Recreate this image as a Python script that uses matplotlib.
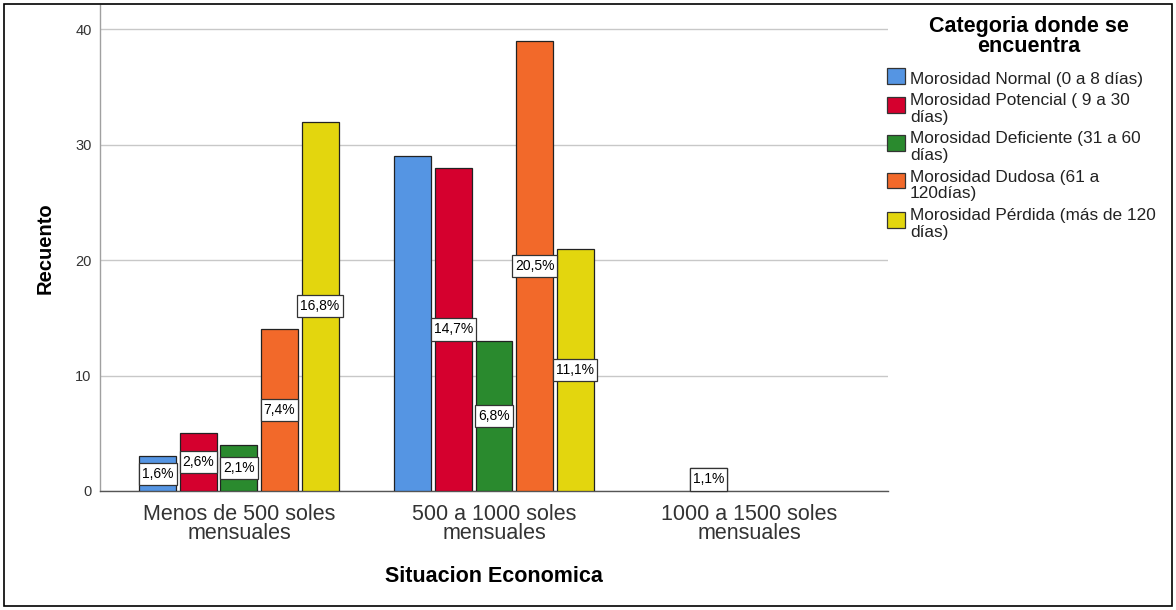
import matplotlib
matplotlib.use("Agg")
import matplotlib.pyplot as plt
from matplotlib.patches import Rectangle
from matplotlib.path import Path

plt.rcParams["font.family"] = ["Liberation Sans", "DejaVu Sans"]

# Data
groups = ["Menos de 500 soles\nmensuales", "500 a 1000 soles\nmensuales", "1000 a 1500 soles\nmensuales"]
series = ["Morosidad Normal (0 a 8 días)",
          "Morosidad Potencial ( 9 a 30\ndías)",
          "Morosidad Deficiente (31 a 60\ndías)",
          "Morosidad Dudosa (61 a\n120días)",
          "Morosidad Pérdida (más de 120\ndías)"]
counts = [
    [3, 29, 0],   # Normal
    [5, 28, 2],   # Potencial
    [4, 13, 0],   # Deficiente
    [14, 39, 0],  # Dudosa
    [32, 21, 0],  # Pérdida
]
pct_labels = [
    ["1,6%", None, None],
    ["2,6%", "14,7%", "1,1%"],
    ["2,1%", "6,8%", None],
    ["7,4%", "20,5%", None],
    ["16,8%", "11,1%", None],
]
colors = ["#5595e3", "#d5002e", "#2a8a2e", "#f2692a", "#e3d60e"]
yticks = [0, 10, 20, 30, 40]


def label_box(x0, y0, width, height, mutation_size):
    """Rectangular label frame with a little more room above and below."""
    px = 0.22 * mutation_size
    py = 0.30 * mutation_size
    x0, y0 = x0 - px, y0 - py
    x1, y1 = x0 + width + 2 * px, y0 + height + 2 * py
    return Path([(x0, y0), (x1, y0), (x1, y1), (x0, y1), (x0, y0)], closed=True)


W, H = 1176, 610
fig = plt.figure(figsize=(W / 100, H / 100), dpi=100)
ax = fig.add_axes([100 / W, (H - 491) / H, 788 / W, 486 / H])

bar_w = 0.145
step = 0.159
for i, (vals, col) in enumerate(zip(counts, colors)):
    off = (i - 2) * step
    for g, v in enumerate(vals):
        if v <= 0:
            continue
        ax.bar(g + off, v, width=bar_w, color=col, edgecolor="#222222",
               linewidth=0.9, zorder=3)
        lab = pct_labels[i][g]
        if lab:
            ax.text(g + off, v / 2, lab, ha="center", va="center", fontsize=10,
                    color="black", zorder=5,
                    bbox=dict(boxstyle=label_box, fc="white",
                              ec="#333333", lw=0.9))

ax.set_xlim(-0.545, 2.545)
ax.set_ylim(0, 42.1)
ax.set_yticks(yticks)
ax.set_yticklabels([str(t) for t in yticks], fontsize=10.5, color="#333333")
ax.set_xticks(range(len(groups)))
ax.set_xticklabels(groups, fontsize=15.5, color="#333333", linespacing=0.88)
ax.tick_params(axis="y", length=0, pad=6)
ax.tick_params(axis="x", length=0, pad=9)
ax.yaxis.grid(True, color="#c8c8c8", lw=1.0, zorder=0)
ax.set_axisbelow(True)
for s in ["top", "right"]:
    ax.spines[s].set_visible(False)
ax.spines["left"].set_color("#a0a0a0")
ax.spines["bottom"].set_color("#555555")
ax.spines["left"].set_linewidth(1.0)
ax.spines["bottom"].set_linewidth(1.0)

fig.text(45 / W, 1 - 248 / H, "Recuento", rotation=90, ha="center",
         va="center", fontsize=14.5, fontweight="bold")
fig.text(494 / W, 1 - 582 / H, "Situacion Economica", ha="center",
         va="baseline", fontsize=15.5, fontweight="bold")

# Legend
for line, base in zip(["Categoria donde se", "encuentra"], [32, 52]):
    fig.text(1029 / W, 1 - base / H, line, ha="center", va="baseline",
             fontsize=15.5, fontweight="bold")
patch_tops = [68, 97, 135, 173, 212]
first_baselines = [84, 105, 143.3, 181.7, 220]
line_gap = 16.7
for name, col, top, base in zip(series, colors, patch_tops, first_baselines):
    fig.patches.append(Rectangle((887 / W, 1 - (top + 15.5) / H), 18 / W, 15.5 / H,
                                 transform=fig.transFigure, facecolor=col,
                                 edgecolor="#333333", lw=0.9))
    for k, line in enumerate(name.split("\n")):
        fig.text(910 / W, 1 - (base + k * line_gap) / H, line, ha="left",
                 va="baseline", fontsize=12.4, color="#222222")

# Outer frame
fig.patches.append(Rectangle((4 / W, 4 / H), (W - 8) / W, (H - 8) / H,
                             transform=fig.transFigure, fill=False,
                             edgecolor="black", lw=1.2))

fig.savefig("out.png", dpi=100)
